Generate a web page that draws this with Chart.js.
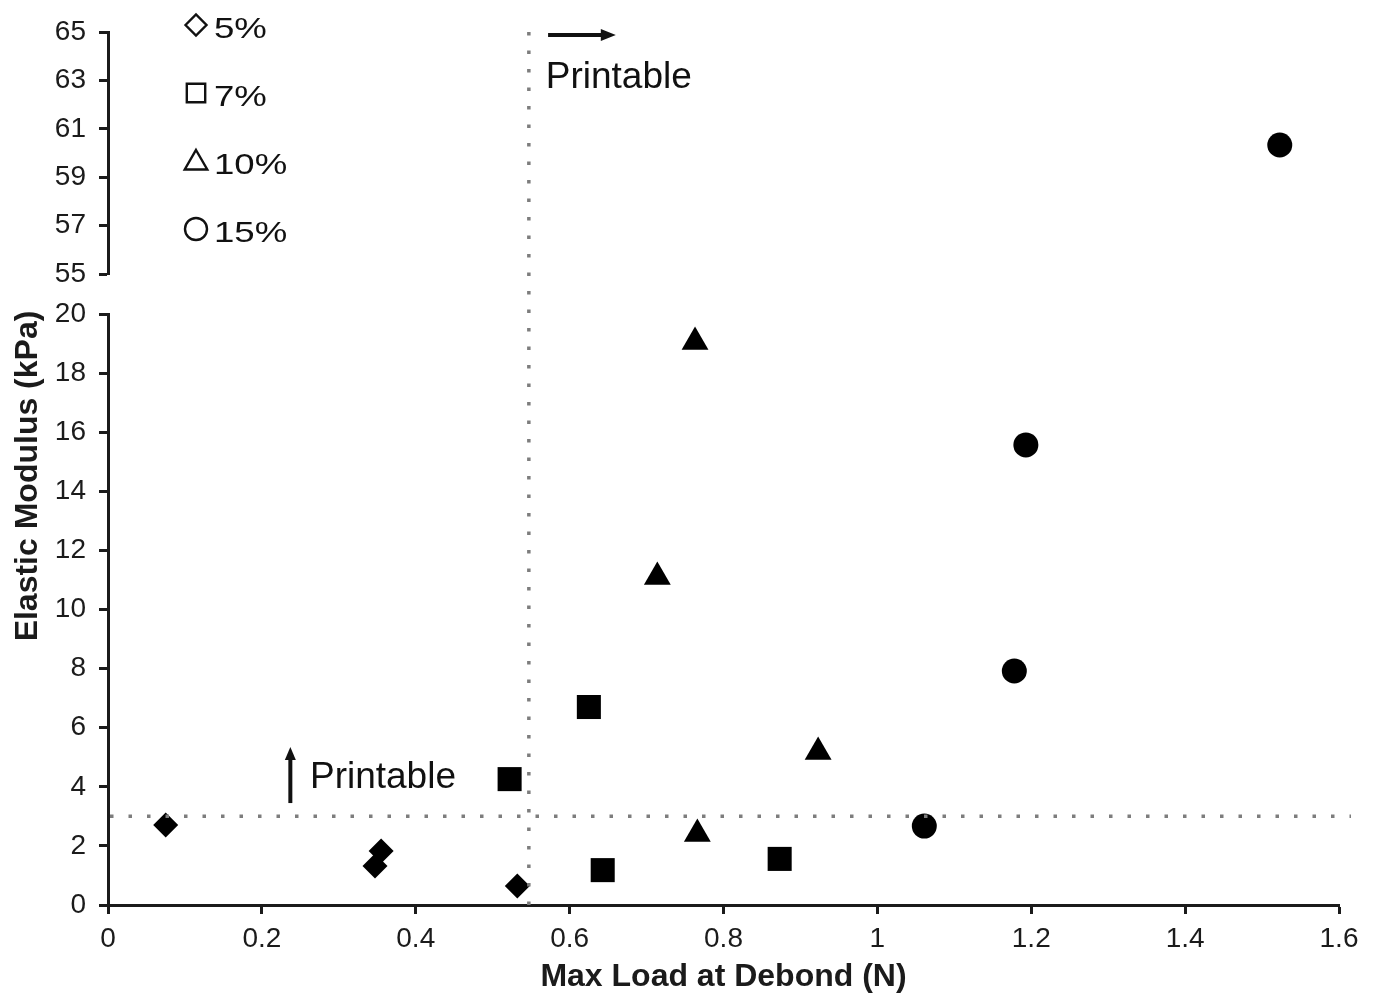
<!DOCTYPE html>
<html>
    <head>
        <meta charset="UTF-8">
        <title>Elastic Modulus vs Max Load</title>
        <script src="https://cdn.jsdelivr.net/npm/chart.js@4.4.1/dist/chart.umd.min.js"></script>
        <style>
            html, body { margin: 0; padding: 0; background: #fff; }
            #chartBox { width: 1376px; height: 997px; }
        </style>
    </head>
    <body>
        <div id="chartBox"><canvas id="chart" width="1376" height="997"></canvas></div>

        <script>
            // series: gel concentration, max load at debond (N), elastic modulus (kPa)
            const seriesLabels = ["5%", "7%", "10%", "15%"];
            const seriesStyles = ["rectRot", "rect", "triangle", "circle"];

            const load5 = [0.075, 0.347, 0.355, 0.532];
            const mod5  = [2.71, 1.32, 1.83, 0.64];
            const load7 = [0.522, 0.625, 0.643, 0.873];
            const mod7  = [4.26, 6.70, 1.18, 1.56];
            const load10 = [0.763, 0.714, 0.923, 0.766];
            const mod10  = [19.05, 11.1, 5.18, 2.40];
            const load15 = [1.523, 1.193, 1.178, 1.061];
            const mod15  = [60.33, 15.57, 7.92, 2.67];

            const loads = [load5, load7, load10, load15];
            const moduli = [mod5, mod7, mod10, mod15];

            // axis ranges (broken y axis)
            const xRange = [0, 1.6];
            const yLowRange = [0, 20];
            const yHighRange = [55, 65];

            // printability thresholds
            const loadThreshold = 0.547;
            const modulusThreshold = 3;

            const radii = {rectRot: 12.5, rect: 17, triangle: 15.5, circle: 12.5};
            const font = "'Liberation Sans', Arial, sans-serif";
            const ink = "#1b1b1b";

            const datasets = [];
            seriesLabels.forEach((label, i) => {
                const low = [], high = [];
                loads[i].forEach((x, j) => {
                    const y = moduli[i][j];
                    (y >= yHighRange[0] ? high : low).push({x, y});
                });
                const style = seriesStyles[i];
                const base = {
                    label, pointStyle: style, pointRadius: radii[style], pointHoverRadius: radii[style],
                    backgroundColor: "#000", borderColor: "#000", borderWidth: 0, showLine: false
                };
                if (low.length) datasets.push({...base, data: low, yAxisID: "y"});
                if (high.length) datasets.push({...base, data: high, yAxisID: "yTop"});
            });

            const tickFont = {family: font, size: 28};
            const gridOpts = {drawOnChartArea: false, tickLength: 9, tickWidth: 3, tickColor: ink};
            const borderOpts = {color: ink, width: 3};

            // dotted threshold lines, arrows, axis title and the marker legend
            const annotations = {
                id: "annotations",
                afterDatasetsDraw(chart) {
                    const {ctx, chartArea} = chart;
                    const xs = chart.scales.x, yl = chart.scales.y, yh = chart.scales.yTop;
                    ctx.save();

                    ctx.strokeStyle = "#7d7d7d";
                    ctx.lineWidth = 3.5;
                    ctx.setLineDash([3.5, 15]);
                    const vx = xs.getPixelForValue(loadThreshold);
                    ctx.beginPath();
                    ctx.moveTo(vx, chartArea.top);
                    ctx.lineTo(vx, yl.getPixelForValue(0));
                    ctx.stroke();
                    const hy = yl.getPixelForValue(modulusThreshold);
                    ctx.beginPath();
                    ctx.moveTo(xs.getPixelForValue(0) + 2, hy);
                    ctx.lineTo(chartArea.right + 12, hy);
                    ctx.stroke();
                    ctx.setLineDash([]);

                    ctx.fillStyle = "#111";
                    ctx.strokeStyle = "#111";
                    ctx.lineWidth = 4;
                    // up arrow + label
                    const ax = xs.getPixelForValue(0.237);
                    const ay0 = yl.getPixelForValue(3.45), ay1 = yl.getPixelForValue(5.35);
                    ctx.beginPath(); ctx.moveTo(ax, ay0); ctx.lineTo(ax, ay1 + 10); ctx.stroke();
                    ctx.beginPath(); ctx.moveTo(ax, ay1); ctx.lineTo(ax - 5.5, ay1 + 13); ctx.lineTo(ax + 5.5, ay1 + 13); ctx.closePath(); ctx.fill();
                    // right arrow + label
                    const bx0 = xs.getPixelForValue(0.572), bx1 = xs.getPixelForValue(0.66);
                    const by = yh.getPixelForValue(64.88);
                    ctx.beginPath(); ctx.moveTo(bx0, by); ctx.lineTo(bx1 - 10, by); ctx.stroke();
                    ctx.beginPath(); ctx.moveTo(bx1, by); ctx.lineTo(bx1 - 15, by - 6); ctx.lineTo(bx1 - 15, by + 6); ctx.closePath(); ctx.fill();

                    ctx.font = "37px " + font;
                    ctx.textBaseline = "middle";
                    ctx.textAlign = "left";
                    ctx.fillText("Printable", xs.getPixelForValue(0.2625), yl.getPixelForValue(4.3));
                    ctx.fillText("Printable", xs.getPixelForValue(0.569), yh.getPixelForValue(63.1));

                    // y axis title, centred over both halves
                    ctx.save();
                    ctx.translate(28, chartArea.top + 444);
                    ctx.rotate(-Math.PI / 2);
                    ctx.textAlign = "center";
                    ctx.font = "bold 32px " + font;
                    ctx.fillStyle = ink;
                    ctx.fillText("Elastic Modulus (kPa)", 0, 0);
                    ctx.restore();

                    // legend with open markers
                    const legendY = [25, 93, 161, 229];
                    const legendR = {rectRot: 10.5, rect: 13, triangle: 13, circle: 11};
                    seriesLabels.forEach((label, i) => {
                        const style = seriesStyles[i];
                        ctx.fillStyle = "#fff";
                        ctx.strokeStyle = "#111";
                        ctx.lineWidth = 2.4;
                        Chart.helpers.drawPoint(ctx, {pointStyle: style, radius: legendR[style], borderWidth: 2.4, rotation: 0}, 196, legendY[i] + (style === "triangle" ? 2 : 0));
                        ctx.save();
                        ctx.translate(214, legendY[i] + 5);
                        ctx.scale(1.22, 1);
                        ctx.font = "30px " + font;
                        ctx.textAlign = "left";
                        ctx.fillStyle = "#111";
                        ctx.fillText(label, 0, 0);
                        ctx.restore();
                    });

                    ctx.restore();
                }
            };

            const chart = new Chart(document.getElementById("chart"), {
                type: "scatter",
                data: {datasets},
                options: {
                    responsive: false,
                    animation: false,
                    events: [],
                    layout: {padding: {top: 32, right: 37, bottom: 0, left: 0}},
                    plugins: {legend: {display: false}, tooltip: {enabled: false}},
                    scales: {
                        x: {
                            type: "linear", min: xRange[0], max: xRange[1],
                            ticks: {stepSize: 0.2, font: tickFont, color: ink, padding: 8, autoSkip: false,
                                maxRotation: 0, callback: v => +v.toFixed(1)},
                            grid: gridOpts, border: borderOpts,
                            title: {display: true, text: "Max Load at Debond (N)", color: ink,
                                font: {family: font, size: 32, weight: "bold"}, padding: {top: 0, bottom: 1}},
                            afterFit: s => { s.height = 92; }
                        },
                        yTop: {
                            type: "linear", position: "left", stack: "yy", stackWeight: 242, weight: 3,
                            min: yHighRange[0], max: yHighRange[1],
                            ticks: {stepSize: 2, font: tickFont, color: ink, padding: 13, autoSkip: false},
                            grid: gridOpts, border: borderOpts,
                            afterFit: s => { s.width = 108; }
                        },
                        yGap: {
                            type: "linear", position: "left", stack: "yy", stackWeight: 40, weight: 2,
                            display: false, min: 0, max: 1
                        },
                        y: {
                            type: "linear", position: "left", stack: "yy", stackWeight: 591, weight: 1,
                            min: yLowRange[0], max: yLowRange[1],
                            ticks: {stepSize: 2, font: tickFont, color: ink, padding: 13, autoSkip: false},
                            grid: gridOpts, border: borderOpts,
                            afterFit: s => { s.width = 108; }
                        }
                    }
                },
                plugins: [annotations]
            });
        </script>
    </body>
</html>
